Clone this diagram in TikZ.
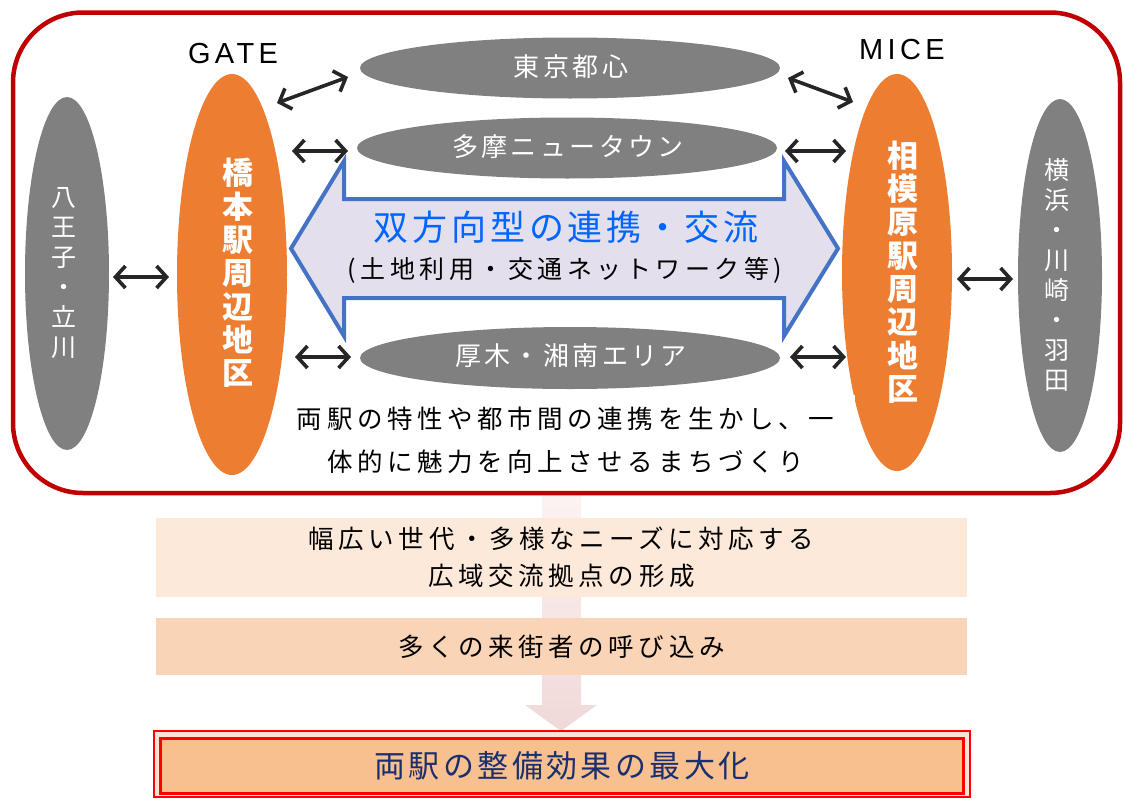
\documentclass[tikz,border=0pt]{standalone}
\usepackage{fontspec}
\setmainfont{Noto Sans CJK JP}
\newfontfamily\jp[LetterSpace=18]{Noto Sans CJK JP}
\newfontfamily\jpe[LetterSpace=13]{Noto Sans CJK JP}
\newfontfamily\jpm[LetterSpace=11]{Noto Sans CJK JP}
\newfontfamily\jpt[LetterSpace=8]{Noto Sans CJK JP}
\newfontfamily\lat[LetterSpace=15]{Liberation Sans}
\usetikzlibrary{arrows.meta,shapes.geometric}
\definecolor{frame}{HTML}{C00000}
\definecolor{grayfill}{HTML}{808080}
\definecolor{orangefill}{HTML}{ED7D31}
\definecolor{arrowdark}{HTML}{262626}
\definecolor{bigfill}{HTML}{E4DFEC}
\definecolor{bigline}{HTML}{4472C4}
\definecolor{bluetext}{HTML}{0066FF}
\definecolor{boxa}{HTML}{FCE9DA}
\definecolor{boxb}{HTML}{FAD4B6}
\definecolor{boxc}{HTML}{F8BF8F}
\definecolor{boxgap}{HTML}{FDE3D6}
\definecolor{navy}{HTML}{1A2F6E}
\definecolor{pinktop}{HTML}{FCF3F3}
\definecolor{pinkbot}{HTML}{F0D9D8}
\begin{document}
\begin{tikzpicture}[x=1pt,y=-1pt,
  grayell/.style={ellipse,fill=grayfill,draw=none,inner sep=0pt},
  orangeell/.style={ellipse,fill=orangefill,draw=none,inner sep=0pt},
  graytxt/.style={text=white,align=center,inner sep=0pt,font=\jp\fontsize{25}{30}\selectfont},
  orangetxt/.style={text=white,align=center,inner sep=0pt,font=\jpt\bfseries\fontsize{31}{33.3}\selectfont},
  dblarrow/.style={draw=arrowdark,line width=3.6pt,{Straight Barb[length=10pt,width=22pt]}-{Straight Barb[length=10pt,width=22pt]}},
  resultbox/.style={minimum width=811pt,inner sep=0pt,align=center,font=\jp\fontsize{25.5}{37}\selectfont}
]
\useasboundingbox (0,0) rectangle (1124,798);

% pink background arrow
\shade[top color=pinktop,bottom color=pinkbot]
  (542,493) -- (581,493) -- (581,705) -- (597,705) -- (561,731) -- (525,705) -- (542,705) -- cycle;

% red frame
\draw[frame,line width=4.5pt,rounded corners=70pt] (13,12.5) rectangle (1120,493);

% side ellipses
\node[grayell,minimum width=84pt,minimum height=353pt] (hachioji) at (67,273.5) {};
\node[orangeell,minimum width=110pt,minimum height=401pt] (hashimoto) at (232,274.5) {};
\node[orangeell,minimum width=110pt,minimum height=397pt] (sagamihara) at (897,272.5) {};
\node[grayell,minimum width=84pt,minimum height=353pt] (yokohama) at (1060,275.5) {};

% horizontal ellipses
\node[grayell,minimum width=420pt,minimum height=61pt] (tokyo) at (570,68) {};
\node[grayell,minimum width=420pt,minimum height=61pt] (tama) at (567,148) {};
\node[grayell,minimum width=420pt,minimum height=62pt] (atsugi) at (570,358) {};

\node[text=white,inner sep=0pt,font=\jpe\fontsize{26}{30}\selectfont] (tokyot) at (571,67) {東京都心};
\node[text=white,inner sep=0pt,font=\jpe\fontsize{26}{30}\selectfont] (tamat) at (568,147) {多摩ニュータウン};
\node[text=white,inner sep=0pt,font=\jpe\fontsize{26}{30}\selectfont] (atsugit) at (571,356) {厚木・湘南エリア};

% big double arrow
\draw[bigline,fill=bigfill,line width=4pt,line join=miter]
  (291,248.5) -- (344,161) -- (344,199) -- (784,199) -- (784,161) -- (838,248.5)
  -- (784,336) -- (784,298) -- (344,298) -- (344,336) -- cycle;
\node[text=bluetext,inner sep=0pt,font=\jpm\fontsize{35}{40}\selectfont] (coop) at (566,227) {双方向型の連携・交流};
\node[text=black,inner sep=0pt,font=\jp\fontsize{25}{30}\selectfont] (coopsub) at (565,270) {(土地利用・交通ネットワーク等)};

% white text box below
\node[fill=white,minimum width=579pt,minimum height=90pt,inner sep=0pt,align=center,
      font=\jp\fontsize{25.5}{43}\selectfont] (desc) at (565.5,440)
  {両駅の特性や都市間の連携を生かし、一\\体的に魅力を向上させるまちづくり};

% vertical texts
\node[graytxt] (hachiojit) at (64,273) {八\\王\\子\\・\\立\\川};
\node[graytxt] (yokohamat) at (1057,275) {横\\浜\\・\\川\\崎\\・\\羽\\田};
\node[orangetxt] (hashimotot) at (238,273) {橋\\本\\駅\\周\\辺\\地\\区};
\node[orangetxt] (sagamiharat) at (903,272) {相\\模\\原\\駅\\周\\辺\\地\\区};

% labels
\node[inner sep=0pt,font=\lat\fontsize{29}{32}\selectfont] (gate) at (233,54) {GATE};
\node[inner sep=0pt,font=\lat\fontsize{29}{32}\selectfont] (mice) at (902,50) {MICE};

% small double arrows
\coordinate (a1s) at (277,103); \coordinate (a1e) at (348,77);
\coordinate (a2s) at (292,151); \coordinate (a2e) at (348,151);
\coordinate (a3s) at (113,277); \coordinate (a3e) at (169,277);
\coordinate (a4s) at (295,357); \coordinate (a4e) at (351,357);
\coordinate (b1s) at (788,78);  \coordinate (b1e) at (853,102);
\coordinate (b2s) at (785,151); \coordinate (b2e) at (846,151);
\coordinate (b3s) at (957,279); \coordinate (b3e) at (1013,279);
\coordinate (b4s) at (790,357); \coordinate (b4e) at (846,357);
\draw[dblarrow] (a1s) -- (a1e);
\draw[dblarrow] (a2s) -- (a2e);
\draw[dblarrow] (a3s) -- (a3e);
\draw[dblarrow] (a4s) -- (a4e);
\draw[dblarrow] (b1s) -- (b1e);
\draw[dblarrow] (b2s) -- (b2e);
\draw[dblarrow] (b3s) -- (b3e);
\draw[dblarrow] (b4s) -- (b4e);

% result boxes
\node[resultbox,fill=boxa,minimum height=79pt] (res1) at (561.5,557.5)
  {幅広い世代・多様なニーズに対応する\\広域交流拠点の形成};
\node[resultbox,fill=boxb,minimum height=57pt] (res2) at (561.5,646.5)
  {多くの来街者の呼び込み};

% final box with double border
\draw[red,line width=2.5pt,fill=boxgap] (154,731) rectangle (970,797);
\node[draw=red,line width=3pt,fill=boxc,minimum width=803pt,minimum height=55pt,inner sep=0pt,
      text=navy,font=\jpm\fontsize{31}{34}\selectfont] (final) at (562,765.5) {両駅の整備効果の最大化};
\end{tikzpicture}
\end{document}
